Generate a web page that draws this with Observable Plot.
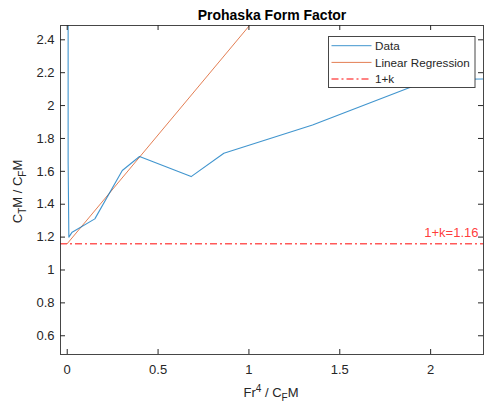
<!DOCTYPE html>
<html>
<head>
<meta charset="utf-8">
<script src="https://cdn.jsdelivr.net/npm/d3@7"></script>
<script src="https://cdn.jsdelivr.net/npm/@observablehq/plot@0.6"></script>
<style>
  html, body { margin: 0; padding: 0; background: #fff; }
  #chart { width: 484px; height: 406px; }
</style>
</head>
<body>
<div id="chart"></div>
<script>
// ---- data ----
const dataX = [0.005, 0.005, 0.009, 0.027, 0.152, 0.303, 0.398, 0.682, 0.862, 1.35, 2.0, 2.29];
const dataY = [4.0, 1.66, 1.20, 1.23, 1.311, 1.605, 1.69, 1.568, 1.71, 1.882, 2.158, 2.162];
const regIntercept = 1.16;
const regSlope = 1.323;
const regX = [0, 2.29];
const kValue = 1.16;
const xTicks = [0, 0.5, 1, 1.5, 2];
const yTicks = [0.6, 0.8, 1, 1.2, 1.4, 1.6, 1.8, 2, 2.2, 2.4];
const xDomain = [-0.037, 2.291];
const yDomain = [0.486, 2.487];

const title = "Prohaska Form Factor";
const legendLabels = ["Data", "Linear Regression", "1+k"];

const dataPts = dataX.map((x, i) => ({x, y: dataY[i]}));
const regPts = regX.map(x => ({x, y: regIntercept + regSlope * x}));

const W = 484, H = 406;
const mL = 60, mR = 1, mT = 25, mB = 52;
const frameH = H - mT - mB;
const frameW = W - mL - mR;

const blue = "#0072BD";
const orange = "#D95319";
const red = "#FF3030";
const axisColor = "#262626";
const font = "'Liberation Sans', Arial, Helvetica, sans-serif";
const fmt = d => String(d);

const plot = Plot.plot({
  width: W,
  height: H,
  marginLeft: mL,
  marginRight: mR,
  marginTop: mT,
  marginBottom: mB,
  style: {fontFamily: font, fontSize: "13px", color: axisColor, background: "#fff"},
  x: {domain: xDomain, ticks: xTicks},
  y: {domain: yDomain, ticks: yTicks},
  marks: [
    Plot.ruleY([kValue], {stroke: red, strokeWidth: 1.5, strokeDasharray: "7,3,2,3", strokeOpacity: 0.8}),
    Plot.line(regPts, {x: "x", y: "y", stroke: orange, strokeWidth: 1, strokeOpacity: 0.75, clip: true}),
    Plot.line(dataPts, {x: "x", y: "y", stroke: blue, strokeWidth: 1.1, strokeOpacity: 0.75, clip: true}),
    Plot.text([{x: xDomain[1], y: kValue, t: "1+k=" + kValue.toFixed(2)}], {
      x: "x", y: "y", text: "t", textAnchor: "end", dx: -5, dy: -11,
      fill: red, fillOpacity: 0.95, fontSize: 13
    }),
    // inward ticks on all four sides
    Plot.ruleX(xTicks, {stroke: axisColor, insetTop: frameH - 5}),
    Plot.ruleX(xTicks, {stroke: axisColor, insetBottom: frameH - 5}),
    Plot.ruleY(yTicks, {stroke: axisColor, insetRight: frameW - 5}),
    Plot.ruleY(yTicks, {stroke: axisColor, insetLeft: frameW - 5}),
    Plot.axisX(xTicks, {tickSize: 0, tickPadding: 10, label: null, fontSize: 13, fill: axisColor, tickFormat: fmt}),
    Plot.axisY(yTicks, {tickSize: 0, tickPadding: 6, label: null, fontSize: 13, fill: axisColor, tickFormat: fmt}),
    Plot.frame({stroke: axisColor, strokeWidth: 1, strokeOpacity: 0.85})
  ]
});

document.getElementById("chart").appendChild(plot);

const svg = d3.select(plot);

// title
svg.append("text")
  .attr("x", 272).attr("y", 19.5)
  .attr("text-anchor", "middle")
  .attr("font-family", font).attr("font-size", 14).attr("font-weight", "bold")
  .attr("fill", "#000")
  .text(title);

// x label: Fr^4 / C_F M
const xl = svg.append("text")
  .attr("x", 271).attr("y", 397)
  .attr("text-anchor", "middle")
  .attr("font-family", font).attr("font-size", 13).attr("fill", axisColor);
xl.append("tspan").text("Fr");
xl.append("tspan").attr("dy", -5).attr("font-size", 10).text("4");
xl.append("tspan").attr("dy", 5).text(" / C");
xl.append("tspan").attr("dy", 4).attr("font-size", 10).text("F");
xl.append("tspan").attr("dy", -4).text("M");

// y label: C_T M / C_F M
const yl = svg.append("text")
  .attr("transform", "translate(21.5,191.5) rotate(-90)")
  .attr("text-anchor", "middle")
  .attr("font-family", font).attr("font-size", 13).attr("fill", axisColor);
yl.append("tspan").text("C");
yl.append("tspan").attr("dy", 4).attr("font-size", 10).text("T");
yl.append("tspan").attr("dy", -4).text("M / C");
yl.append("tspan").attr("dy", 4).attr("font-size", 10).text("F");
yl.append("tspan").attr("dy", -4).text("M");

// legend
const lg = svg.append("g");
lg.append("rect")
  .attr("x", 328.5).attr("y", 36.5).attr("width", 146.5).attr("height", 51)
  .attr("fill", "#fff").attr("stroke", axisColor).attr("stroke-opacity", 0.85).attr("stroke-width", 1);
const legendStyles = [
  {stroke: blue, dash: null, op: 0.75, w: 1},
  {stroke: orange, dash: null, op: 0.75, w: 1},
  {stroke: red, dash: "7,3,2,3", op: 0.8, w: 1.5}
];
legendLabels.forEach((lab, i) => {
  const yy = 45.7 + i * 16.7;
  lg.append("line")
    .attr("x1", 331.5).attr("x2", 371.5).attr("y1", yy).attr("y2", yy)
    .attr("stroke", legendStyles[i].stroke).attr("stroke-width", legendStyles[i].w).attr("stroke-opacity", legendStyles[i].op)
    .attr("stroke-dasharray", legendStyles[i].dash);
  lg.append("text")
    .attr("x", 375).attr("y", yy + 4.2)
    .attr("text-anchor", "start")
    .attr("font-family", font).attr("font-size", 11.7).attr("fill", axisColor)
    .text(lab);
});
</script>
</body>
</html>
